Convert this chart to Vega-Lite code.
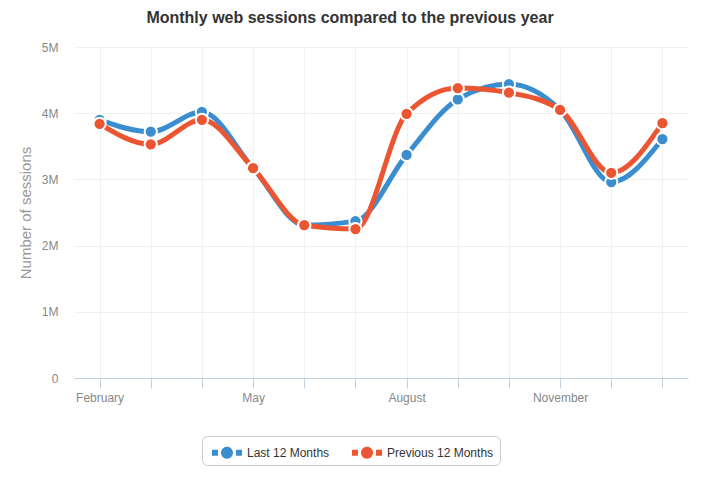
{
  "$schema": "https://vega.github.io/schema/vega-lite/v6.json",
  "autosize": {"type": "none"},
  "width": 614,
  "height": 331,
  "padding": {"left": 74, "top": 47, "right": 32, "bottom": 102},
  "background": "white",
  "config": {
    "font": "Liberation Sans",
    "view": {"stroke": null}
  },
  "title": {
    "text": "Monthly web sessions compared to the previous year",
    "fontSize": 16,
    "fontWeight": "bold",
    "color": "#333333",
    "anchor": "middle",
    "frame": "group",
    "dx": -31,
    "offset": 15
  },
  "data": {
    "values": [
      {"month": "February", "series": "Last 12 Months", "sessions": 3900000},
      {"month": "March", "series": "Last 12 Months", "sessions": 3720000},
      {"month": "April", "series": "Last 12 Months", "sessions": 4020000},
      {"month": "May", "series": "Last 12 Months", "sessions": 3170000},
      {"month": "June", "series": "Last 12 Months", "sessions": 2310000},
      {"month": "July", "series": "Last 12 Months", "sessions": 2370000},
      {"month": "August", "series": "Last 12 Months", "sessions": 3370000},
      {"month": "September", "series": "Last 12 Months", "sessions": 4210000},
      {"month": "October", "series": "Last 12 Months", "sessions": 4440000},
      {"month": "November", "series": "Last 12 Months", "sessions": 4050000},
      {"month": "December", "series": "Last 12 Months", "sessions": 2960000},
      {"month": "January", "series": "Last 12 Months", "sessions": 3610000},
      {"month": "February", "series": "Previous 12 Months", "sessions": 3840000},
      {"month": "March", "series": "Previous 12 Months", "sessions": 3530000},
      {"month": "April", "series": "Previous 12 Months", "sessions": 3900000},
      {"month": "May", "series": "Previous 12 Months", "sessions": 3170000},
      {"month": "June", "series": "Previous 12 Months", "sessions": 2310000},
      {"month": "July", "series": "Previous 12 Months", "sessions": 2250000},
      {"month": "August", "series": "Previous 12 Months", "sessions": 3990000},
      {"month": "September", "series": "Previous 12 Months", "sessions": 4380000},
      {"month": "October", "series": "Previous 12 Months", "sessions": 4310000},
      {"month": "November", "series": "Previous 12 Months", "sessions": 4050000},
      {"month": "December", "series": "Previous 12 Months", "sessions": 3100000},
      {"month": "January", "series": "Previous 12 Months", "sessions": 3850000}
    ]
  },
  "encoding": {
    "x": {
      "field": "month",
      "type": "ordinal",
      "sort": null,
      "scale": {"type": "point", "padding": 0.5},
      "axis": {
        "title": null,
        "labelAngle": 0,
        "labelExpr": "indexof(['February','May','August','November'], datum.value) >= 0 ? datum.value : ''",
        "labelColor": "#888888",
        "labelFontSize": 12,
        "labelPadding": 4,
        "domainColor": "#c0d0e0",
        "tickColor": "#c0d0e0",
        "tickSize": 10,
        "grid": true,
        "gridColor": "#f0f0f0",
        "gridWidth": 1
      }
    },
    "y": {
      "field": "sessions",
      "type": "quantitative",
      "scale": {"domain": [0, 5000000], "nice": false},
      "axis": {
        "title": "Number of sessions",
        "titleColor": "#999999",
        "titleFontSize": 15,
        "titleFontWeight": "normal",
        "titlePadding": 8,
        "values": [0, 1000000, 2000000, 3000000, 4000000, 5000000],
        "labelExpr": "datum.value == 0 ? '0' : (datum.value / 1000000) + 'M'",
        "labelColor": "#888888",
        "labelFontSize": 12,
        "labelPadding": 16,
        "domain": false,
        "ticks": false,
        "gridColor": "#f0f0f0"
      }
    },
    "color": {
      "field": "series",
      "type": "nominal",
      "scale": {"domain": ["Last 12 Months", "Previous 12 Months"], "range": ["#3a8ecf", "#ec5532"]},
      "legend": {
        "title": null,
        "orient": "none",
        "legendX": 128,
        "legendY": 389,
        "direction": "horizontal",
        "strokeColor": "#cccccc",
        "cornerRadius": 5,
        "padding": 6,
        "columnPadding": 18,
        "labelFontSize": 12,
        "labelColor": "#333333",
        "symbolType": "M-0.62,-0.28 H-0.05 V0.28 H-0.62 Z M1.67,-0.28 H2.24 V0.28 H1.67 Z M1.38,0 A0.57,0.57 0 1 1 0.24,0 A0.57,0.57 0 1 1 1.38,0 Z",
        "symbolSize": 441,
        "symbolStrokeWidth": 0,
        "labelOffset": 18
      }
    }
  },
  "layer": [
    {
      "mark": {"type": "line", "interpolate": "monotone", "strokeWidth": 5},
      "encoding": {}
    },
    {
      "mark": {"type": "point", "filled": true, "size": 150, "stroke": "white", "strokeWidth": 2, "opacity": 1, "strokeOpacity": 1},
      "encoding": {}
    }
  ]
}
